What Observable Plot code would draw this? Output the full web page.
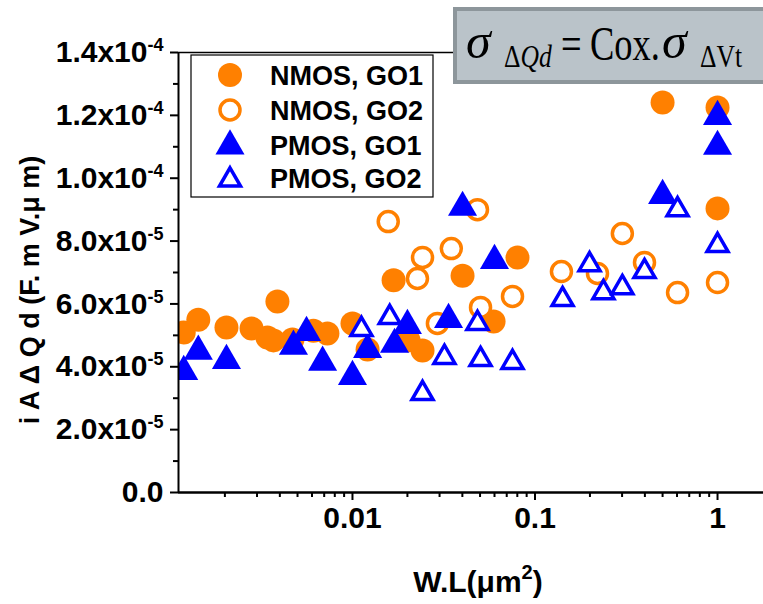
<!DOCTYPE html>
<html><head><meta charset="utf-8">
<script src="https://cdn.jsdelivr.net/npm/d3@7"></script>
<script src="https://cdn.jsdelivr.net/npm/@observablehq/plot@0.6"></script>
<style>
html,body{margin:0;padding:0;background:#fff;}
#chart{position:relative;width:763px;height:604px;overflow:hidden;}
</style>
</head><body><div id="chart"></div>
<script>
// ---- data ----
const seriesNames = ["NMOS, GO1", "NMOS, GO2", "PMOS, GO1", "PMOS, GO2"];

const nmosGO1X = [0.00119, 0.00143, 0.00204, 0.0028, 0.00342, 0.00369, 0.00388, 0.00469, 0.00611, 0.00729, 0.0100, 0.0121, 0.0168, 0.0203, 0.0242, 0.0401, 0.0593, 0.0802, 0.5, 1.0, 1.0];
const nmosGO1Y = [5.09e-5, 5.50e-5, 5.25e-5, 5.22e-5, 4.93e-5, 4.84e-5, 6.08e-5, 4.87e-5, 5.15e-5, 5.06e-5, 5.38e-5, 4.55e-5, 6.75e-5, 4.84e-5, 4.52e-5, 6.90e-5, 5.44e-5, 7.48e-5, 1.241e-4, 1.225e-4, 9.04e-5];

const nmosGO2X = [0.0157, 0.0227, 0.0242, 0.0292, 0.0348, 0.0484, 0.0503, 0.0753, 0.1396, 0.22, 0.301, 0.398, 0.604, 1.0];
const nmosGO2Y = [8.62e-5, 6.81e-5, 7.48e-5, 5.38e-5, 7.76e-5, 9.0e-5, 5.89e-5, 6.24e-5, 7.03e-5, 6.97e-5, 8.24e-5, 7.32e-5, 6.36e-5, 6.68e-5];

const pmosGO1X = [0.00119, 0.00143, 0.00204, 0.00475, 0.0056, 0.00686, 0.0100, 0.0121, 0.0170, 0.0200, 0.0336, 0.0401, 0.0600, 0.5, 1.0, 1.0];
const pmosGO1Y = [3.85e-5, 4.49e-5, 4.20e-5, 4.65e-5, 5.09e-5, 4.14e-5, 3.69e-5, 4.55e-5, 4.71e-5, 5.31e-5, 5.50e-5, 9.07e-5, 7.38e-5, 9.45e-5, 1.196e-4, 1.101e-4];

const pmosGO2X = [0.0112, 0.0160, 0.0242, 0.0319, 0.0484, 0.0503, 0.0753, 0.1416, 0.199, 0.237, 0.301, 0.398, 0.604, 1.0];
const pmosGO2Y = [5.19e-5, 5.57e-5, 3.15e-5, 4.30e-5, 5.38e-5, 4.23e-5, 4.14e-5, 6.14e-5, 7.25e-5, 6.36e-5, 6.52e-5, 7.03e-5, 9.0e-5, 7.86e-5];

// ---- ticks ----
const xDomain = [0.001114, 1.786];
const yDomain = [0, 1.4e-4];
const xMajorTicks = [0.01, 0.1, 1];
const xTickLabels = ["0.01", "0.1", "1"];
const xMinorTicks = [0.002, 0.003, 0.004, 0.005, 0.006, 0.007, 0.008, 0.009,
                     0.02, 0.03, 0.04, 0.05, 0.06, 0.07, 0.08, 0.09,
                     0.2, 0.3, 0.4, 0.5, 0.6, 0.7, 0.8, 0.9];
const yMajorTicks = [0, 2e-5, 4e-5, 6e-5, 8e-5, 1e-4, 1.2e-4, 1.4e-4];
const yTickLabels = ["0.0", "2.0x10|-5", "4.0x10|-5", "6.0x10|-5", "8.0x10|-5", "1.0x10|-4", "1.2x10|-4", "1.4x10|-4"];
const yMinorTicks = [1e-5, 3e-5, 5e-5, 7e-5, 9e-5, 1.1e-4, 1.3e-4];

const xTitle = ["W.L(μm", "2", ")"];
const yTitle = "i A Δ Q d (F. m V.μ m)";
const formulaParts = ["σ", "Δ", "Qd", "=", "Cox.", "σ", "ΔVt"];

// ---- styles ----
const orange = "#ff8000";
const blue = "#0000ff";
const rows = (xs, ys) => xs.map((x, i) => ({x, y: ys[i]}));

const font = "'Liberation Sans', Arial, Helvetica, sans-serif";

const chart = Plot.plot({
  width: 763, height: 604,
  marginLeft: 178, marginRight: 0, marginTop: 52, marginBottom: 112,
  style: {fontFamily: font, fontWeight: "bold", fontSize: "30px", background: "white", color: "black", overflow: "visible"},
  x: {type: "log", domain: xDomain},
  y: {domain: yDomain},
  marks: [
    Plot.axisX(xMinorTicks, {tickSize: 5, strokeWidth: 2, tickFormat: () => "", label: null}),
    Plot.axisX(xMajorTicks, {tickSize: 8, tickPadding: 6, strokeWidth: 2, tickFormat: d => xTickLabels[xMajorTicks.indexOf(d)], label: null}),
    Plot.axisY(yMinorTicks, {tickSize: 5, strokeWidth: 2, tickFormat: () => "", label: null}),
    Plot.axisY(yMajorTicks, {tickSize: 8, tickPadding: 7, strokeWidth: 2, tickFormat: d => yTickLabels[yMajorTicks.indexOf(d)], label: null}),
    Plot.dot(rows(nmosGO1X, nmosGO1Y), {x: "x", y: "y", symbol: "circle", r: 12, fill: orange, clip: true}),
    Plot.dot(rows(nmosGO2X, nmosGO2Y), {x: "x", y: "y", symbol: "circle", r: 10, fill: "white", stroke: orange, strokeWidth: 3.5, clip: true}),
    Plot.dot(rows(pmosGO1X, pmosGO1Y), {x: "x", y: "y", symbol: "triangle", r: 10.8, fill: blue, clip: true}),
    Plot.dot(rows(pmosGO2X, pmosGO2Y), {x: "x", y: "y", symbol: "triangle", r: 7.8, fill: "white", stroke: blue, strokeWidth: 3.5, clip: true}),
    Plot.ruleX([xDomain[0]], {strokeWidth: 2}),
    Plot.ruleY([yDomain[0]], {strokeWidth: 2.5}),
    Plot.ruleY([yDomain[1]], {strokeWidth: 1.5})
  ]
});

document.getElementById("chart").appendChild(chart);
const svg = d3.select(chart);

// superscripts on y tick labels
svg.selectAll('[aria-label="y-axis tick label"] text').each(function() {
  const t = this.textContent;
  if (t.includes("|")) {
    const [b, e] = t.split("|");
    const el = d3.select(this);
    el.text(b);
    el.append("tspan").attr("dy", "-11px").attr("font-size", "18px").text(e);
  }
});

// axis titles
const xt = svg.append("text").attr("x", 478).attr("y", 592).attr("text-anchor", "middle")
  .attr("font-family", font).attr("font-weight", "bold").attr("font-size", "30px");
xt.append("tspan").text(xTitle[0]);
xt.append("tspan").attr("dy", "-13px").attr("font-size", "20px").text(xTitle[1]);
xt.append("tspan").attr("dy", "13px").text(xTitle[2]);

svg.append("text").attr("transform", "translate(39,290) rotate(-90)").attr("text-anchor", "middle")
  .attr("font-family", font).attr("font-weight", "bold").attr("font-size", "27px").text(yTitle);

// legend
const lg = svg.append("g");
lg.append("rect").attr("x", 191).attr("y", 55).attr("width", 242).attr("height", 142)
  .attr("fill", "white").attr("stroke", "black").attr("stroke-width", 1.2);
const legendRows = [
  {cy: 75, sym: d3.symbolCircle, r: 12, fill: orange, stroke: "none", sw: 0},
  {cy: 110, sym: d3.symbolCircle, r: 10, fill: "white", stroke: orange, sw: 3.5},
  {cy: 146, sym: d3.symbolTriangle, r: 10.8, fill: blue, stroke: "none", sw: 0},
  {cy: 180, sym: d3.symbolTriangle, r: 7.8, fill: "white", stroke: blue, sw: 3.5}
];
legendRows.forEach((d, i) => {
  lg.append("path").attr("d", d3.symbol(d.sym, Math.PI * d.r * d.r)())
    .attr("transform", `translate(230,${d.cy})`)
    .attr("fill", d.fill).attr("stroke", d.stroke).attr("stroke-width", d.sw);
  lg.append("text").attr("x", 270).attr("y", [85, 120, 155, 188][i]).attr("text-anchor", "start")
    .attr("font-family", font).attr("font-weight", "bold").attr("font-size", "27px").text(seriesNames[i]);
});

// formula box
const fb = svg.append("g");
fb.append("rect").attr("x", 455).attr("y", 9).attr("width", 340).attr("height", 73)
  .attr("fill", "#bac3c9").attr("stroke", "#8d969b").attr("stroke-width", 4);
const serif = "'Liberation Serif', 'Times New Roman', Times, serif";
function piece(x, y, size, sx, parts) {
  const t = fb.append("text").attr("transform", `translate(${x},${y}) scale(${sx},1)`)
    .attr("text-anchor", "start").attr("font-weight", "normal")
    .attr("font-family", serif).attr("font-size", size + "px").attr("fill", "black");
  parts.forEach(p => t.append("tspan").attr("font-style", p[1] ? "italic" : "normal").text(p[0]));
}
piece(466, 58, 50, 1, [[formulaParts[0], true]]);
piece(504, 67, 32, 0.8, [[formulaParts[1], false], [formulaParts[2], true]]);
piece(561, 60, 48, 0.76, [[formulaParts[3], false]]);
piece(590, 60, 48, 0.76, [[formulaParts[4], false]]);
piece(662, 58, 50, 1, [[formulaParts[5], true]]);
piece(700, 67, 32, 0.8, [[formulaParts[6], false]]);
</script>
</body></html>
